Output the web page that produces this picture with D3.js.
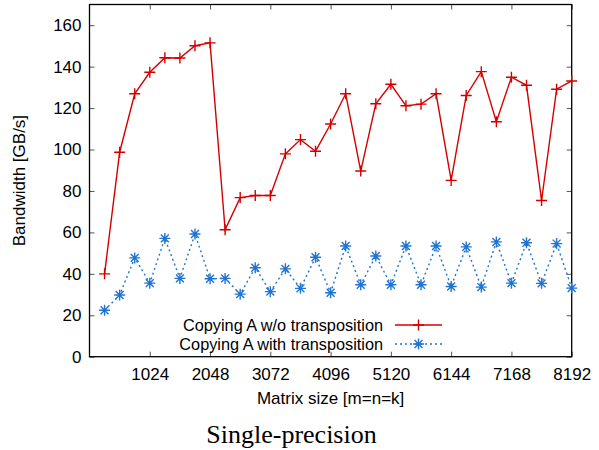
<!DOCTYPE html>
<html>
<head>
<meta charset="utf-8">
<script src="https://cdn.jsdelivr.net/npm/d3@7"></script>
<style>
  body { margin: 0; background: #fff; }
  text { font-family: "Liberation Sans", Arial, sans-serif; fill: #000; }
</style>
</head>
<body>
<div id="figure-container"></div>
<script>
// matrix sizes, every 256 up to 8192
var sizes = [256, 512, 768, 1024, 1280, 1536, 1792, 2048,
  2304, 2560, 2816, 3072, 3328, 3584, 3840, 4096,
  4352, 4608, 4864, 5120, 5376, 5632, 5888, 6144,
  6400, 6656, 6912, 7168, 7424, 7680, 7936, 8192];

var noTranspose = [40, 98.7, 126.9, 137.3, 144.3, 144.2, 150.1, 151.5,
  61.3, 76.8, 77.8, 77.8, 97.9, 104.8, 99.2, 112.3,
  126.9, 89.6, 122.1, 131.5, 121.1, 121.9, 126.9, 85.1,
  126.1, 137.6, 113.4, 134.9, 131.0, 75.4, 129.1, 133.1];

var withTranspose = [22.4, 29.8, 47.7, 35.5, 57.1, 37.8, 59.2, 37.6,
  37.8, 30.2, 42.9, 31.4, 42.4, 33.0, 48.0, 30.9,
  53.4, 34.7, 48.6, 34.7, 53.4, 34.7, 53.4, 33.9,
  53.0, 33.6, 55.4, 35.5, 55.0, 35.4, 54.6, 33.1];

var xTicks = [1024, 2048, 3072, 4096, 5120, 6144, 7168, 8192];
var yTicks = [0, 20, 40, 60, 80, 100, 120, 140, 160];
var seriesNames = ['Copying A w/o transposition', 'Copying A with transposition'];

var fullWidth = 599, fullHeight = 450;
var margin = {top: 4.5, right: 27.3, bottom: 93.3, left: 89.5};
var width = fullWidth - margin.left - margin.right;
var height = fullHeight - margin.top - margin.bottom;

var red = '#d40000', blue = '#1f74d1';
var fontSize = '17px';

var xScale = d3.scaleLinear().domain([0, 8192]).range([0, width]);
var yScale = d3.scaleLinear().domain([0, 170]).range([height, 0]);

var svg = d3.select('#figure-container')
  .append('svg')
  .attr('width', fullWidth)
  .attr('height', fullHeight);

var g = svg.append('g')
  .attr('transform', `translate(${margin.left},${margin.top})`);

// axes, gnuplot style: inward ticks mirrored on all sides
var xAxis = d3.axisBottom(xScale).tickValues(xTicks).tickFormat(d3.format('d'))
  .tickSizeInner(-5).tickSizeOuter(0).tickPadding(11);
var yAxis = d3.axisLeft(yScale).tickValues(yTicks).tickFormat(d3.format('d'))
  .tickSizeInner(-5).tickSizeOuter(0).tickPadding(8);

g.append('g').attr('class', 'axis x')
  .attr('transform', `translate(0,${height})`)
  .call(xAxis);
g.append('g').attr('class', 'axis x2')
  .call(d3.axisTop(xScale).tickValues(xTicks).tickSizeInner(-5).tickSizeOuter(0).tickFormat(''));
g.append('g').attr('class', 'axis y')
  .call(yAxis);
g.append('g').attr('class', 'axis y2')
  .attr('transform', `translate(${width},0)`)
  .call(d3.axisRight(yScale).tickValues(yTicks).tickSizeInner(-5).tickSizeOuter(0).tickFormat(''));

g.selectAll('.axis .domain').remove();
g.selectAll('.axis line').attr('stroke', '#555').attr('stroke-width', 1);
g.selectAll('.axis text')
  .style('font-size', fontSize)
  .style('font-family', '"Liberation Sans", Arial, sans-serif')
  .attr('fill', '#111');

g.append('rect')
  .attr('width', width)
  .attr('height', height)
  .attr('fill', 'none')
  .attr('stroke', '#000')
  .attr('stroke-width', 1.3);

// labels
svg.append('text')
  .attr('transform', `translate(25,${margin.top + height / 2}) rotate(-90)`)
  .attr('text-anchor', 'middle')
  .style('font-size', fontSize)
  .text('Bandwidth [GB/s]');

svg.append('text')
  .attr('x', margin.left + width / 2)
  .attr('y', 404)
  .attr('text-anchor', 'middle')
  .style('font-size', fontSize)
  .text('Matrix size [m=n=k]');

svg.append('text')
  .attr('x', 291.5)
  .attr('y', 443)
  .attr('text-anchor', 'middle')
  .style('font-family', '"Liberation Serif", "Times New Roman", serif')
  .style('font-size', '26px')
  .text('Single-precision');

// series
var line = d3.line()
  .x(function(d, i) { return xScale(sizes[i]); })
  .y(function(d) { return yScale(d); });

g.append('path')
  .datum(noTranspose)
  .attr('fill', 'none')
  .attr('stroke', red)
  .attr('stroke-width', 1.4)
  .attr('d', line);

g.append('path')
  .datum(withTranspose)
  .attr('fill', 'none')
  .attr('stroke', blue)
  .attr('stroke-width', 1.4)
  .attr('stroke-dasharray', '2,3')
  .attr('d', line);

function plus(s) {
  return 'M' + (-s) + ',0H' + s + 'M0,' + (-s) + 'V' + s;
}
function star(s) {
  var d = s * 0.72;
  return 'M' + (-s) + ',0H' + s + 'M0,' + (-s) + 'V' + s +
    'M' + (-d) + ',' + (-d) + 'L' + d + ',' + d +
    'M' + (-d) + ',' + d + 'L' + d + ',' + (-d);
}

g.append('g').selectAll('path')
  .data(noTranspose)
  .enter()
    .append('path')
    .attr('transform', function(d, i) { return `translate(${xScale(sizes[i])},${yScale(d)})`; })
    .attr('d', plus(5.5))
    .attr('stroke', red)
    .attr('stroke-width', 1.4);

g.append('g').selectAll('path')
  .data(withTranspose)
  .enter()
    .append('path')
    .attr('transform', function(d, i) { return `translate(${xScale(sizes[i])},${yScale(d)})`; })
    .attr('d', star(5.5))
    .attr('stroke', blue)
    .attr('stroke-width', 1.4);

// legend
var legend = svg.append('g');
var legendRows = [
  {name: seriesNames[0], color: red, dash: null, marker: plus(5.5), y: 325},
  {name: seriesNames[1], color: blue, dash: '2,3', marker: star(5.5), y: 344}
];
legendRows.forEach(function(r) {
  legend.append('text')
    .attr('x', 383)
    .attr('y', r.y + 6)
    .attr('text-anchor', 'end')
    .style('font-size', '16.3px')
    .text(r.name);
  legend.append('line')
    .attr('x1', 395).attr('x2', 442)
    .attr('y1', r.y).attr('y2', r.y)
    .attr('stroke', r.color)
    .attr('stroke-width', 1.4)
    .attr('stroke-dasharray', r.dash);
  legend.append('path')
    .attr('transform', `translate(418.5,${r.y})`)
    .attr('d', r.marker)
    .attr('stroke', r.color)
    .attr('stroke-width', 1.4);
});
</script>
</body>
</html>
